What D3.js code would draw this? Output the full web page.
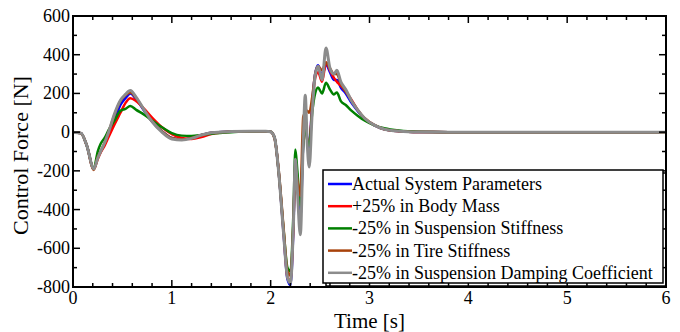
<!DOCTYPE html>
<html><head><meta charset="utf-8">
<script src="https://cdn.jsdelivr.net/npm/d3@7"></script>
<style>html,body{margin:0;padding:0;background:#fff;}svg{display:block;} svg text{font-family:"Liberation Serif","DejaVu Serif",serif;}</style>
</head><body>
<script>
const seriesNames = ["Actual System Parameters","+25% in Body Mass","-25% in Suspension Stiffness","-25% in Tire Stiffness","-25% in Suspension Damping Coefficient"];
const seriesColors = ["#0000ff","#ff0000","#008000","#a8420a","#8c8c8c"];
const time = [0,0.08,0.14,0.21,0.25,0.28,0.32,0.36,0.42,0.48,0.53,0.58,0.64,0.72,0.8,0.9,1.0,1.1,1.2,1.3,1.4,1.6,1.8,1.95,2.0,2.04,2.08,2.13,2.17,2.2,2.23,2.25,2.27,2.3,2.33,2.35,2.37,2.39,2.42,2.45,2.48,2.52,2.56,2.6,2.64,2.67,2.71,2.76,2.82,2.88,2.95,3.05,3.15,3.3,3.5,3.8,6];
const actual = [0,-5,-70,-190,-130,-100,-60,-10,60,140,175,200,170,110,55,5,-30,-38,-30,-15,-3,3,5,5,2,-30,-200,-520,-760,-790,-500,-170,-260,-450,-50,80,-30,-80,150,300,345,290,350,310,270,270,230,200,150,110,70,35,15,5,1,0,0];
const bodyMass = [0,-5,-70,-192,-140,-105,-70,-25,40,100,150,175,160,120,75,25,-10,-30,-35,-25,-10,2,5,5,2,-30,-200,-510,-750,-770,-480,-150,-240,-350,-40,60,-40,-60,130,280,310,260,360,320,280,260,240,210,165,115,72,36,15,5,1,0,0];
const suspStiff = [0,-5,-70,-188,-100,-60,-30,10,60,110,120,135,115,90,60,25,-5,-18,-20,-15,-8,0,3,4,2,-30,-200,-500,-700,-720,-420,-90,-200,-380,-60,40,-40,-70,100,200,230,200,255,220,195,205,160,140,110,85,60,35,20,8,2,0,0];
const tireStiff = [0,-5,-70,-195,-130,-100,-55,0,90,160,190,205,175,115,55,5,-30,-38,-30,-15,-3,3,5,5,2,-35,-190,-490,-720,-740,-470,-180,-250,-330,80,100,110,100,180,300,340,320,360,330,300,300,250,210,160,115,72,36,15,5,1,0,0];
const damping = [0,-5,-70,-190,-135,-100,-55,0,95,165,195,215,180,115,55,0,-35,-40,-32,-15,-3,3,5,5,2,-30,-200,-520,-750,-780,-480,-140,-300,-530,-40,190,-60,-180,100,290,340,270,435,330,300,320,260,220,160,115,72,36,15,5,1,0,0];
const seriesValues = [actual, bodyMass, suspStiff, tireStiff, damping];
const xTicks = [0,1,2,3,4,5,6];
const yTicks = [-800,-600,-400,-200,0,200,400,600];

const W = 680, H = 332;
const m = {left:73, right:14, top:16, bottom:45};
const svg = d3.select("body").append("svg").attr("width",W).attr("height",H);
const x = d3.scaleLinear().domain([0,6]).range([m.left, W-m.right]);
const y = d3.scaleLinear().domain([-800,600]).range([H-m.bottom, m.top]);

const plot = svg.append("g");
const line = d3.line().x((d,i)=>x(time[i])).y(d=>y(d)).curve(d3.curveMonotoneX);
seriesValues.forEach((vals,k)=>{
  plot.append("path").datum(vals).attr("d",line).attr("fill","none")
    .attr("stroke",seriesColors[k]).attr("stroke-width",k===4?3:2.5).attr("stroke-linejoin","round");
});

const g = svg.append("g").attr("stroke","#000");
const xMinor = d3.range(0,6.001,0.2);
const yMinor = d3.range(-800,600.1,100);
xMinor.forEach(v=>{
  const major = Math.abs(v-Math.round(v))<1e-6;
  const L = major?7:4;
  g.append("line").attr("x1",x(v)).attr("x2",x(v)).attr("y1",y(-800)).attr("y2",y(-800)-L).attr("stroke-width",1.5);
  g.append("line").attr("x1",x(v)).attr("x2",x(v)).attr("y1",y(600)).attr("y2",y(600)+L).attr("stroke-width",1.5);
});
yMinor.forEach(v=>{
  const major = Math.abs(v%200)<1e-6;
  const L = major?7:4;
  g.append("line").attr("y1",y(v)).attr("y2",y(v)).attr("x1",x(0)).attr("x2",x(0)+L).attr("stroke-width",1.5);
  g.append("line").attr("y1",y(v)).attr("y2",y(v)).attr("x1",x(6)).attr("x2",x(6)-L).attr("stroke-width",1.5);
});
svg.append("rect").attr("x",x(0)).attr("y",y(600)).attr("width",x(6)-x(0)).attr("height",y(-800)-y(600))
  .attr("fill","none").attr("stroke","#000").attr("stroke-width",2);

svg.append("g").selectAll("text").data(xTicks).join("text")
  .attr("x",d=>x(d)).attr("y",y(-800)+17).attr("text-anchor","middle")
  .attr("font-size",18).text(d=>d);
svg.append("g").selectAll("text").data(yTicks).join("text")
  .attr("x",x(0)-3).attr("y",d=>y(d)+6).attr("text-anchor","end")
  .attr("font-size",18).text(d=>d);

svg.append("text").attr("x",(x(0)+x(6))/2).attr("y",328).attr("text-anchor","middle")
  .attr("font-size",21).text("Time [s]");
svg.append("text").attr("transform",`translate(28,${(y(600)+y(-800))/2+4}) rotate(-90)`).attr("text-anchor","middle")
  .attr("font-size",22).text("Control Force [N]");

const lg = svg.append("g");
const lx = 323, ly = 170, lw = 340, lh = 113;
lg.append("rect").attr("x",lx+3).attr("y",ly+3).attr("width",lw).attr("height",lh).attr("fill","none").attr("stroke","#000").attr("stroke-width",1.5);
lg.append("rect").attr("x",lx).attr("y",ly).attr("width",lw).attr("height",lh).attr("fill","#fff").attr("stroke","#000").attr("stroke-width",1.5);
seriesNames.forEach((n,k)=>{
  const yy = ly + 14 + k*22.2;
  lg.append("line").attr("x1",lx+5).attr("x2",lx+29).attr("y1",yy).attr("y2",yy).attr("stroke",seriesColors[k]).attr("stroke-width",2.5);
  lg.append("text").attr("x",lx+29).attr("y",yy+6).attr("font-size",18).text(n);
});
</script>
</body></html>
